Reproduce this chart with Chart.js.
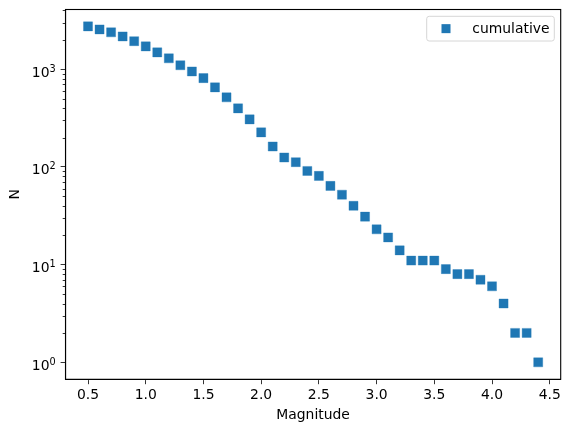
<!DOCTYPE html>
<html>
<head>
<meta charset="utf-8">
<script src="https://cdn.jsdelivr.net/npm/chart.js@4.4.1/dist/chart.umd.min.js"></script>
<style>
  html, body { margin: 0; padding: 0; background: #fff; }
  #wrap { width: 570px; height: 432px; }
</style>
</head>
<body>
<div id="wrap"><canvas id="chart" width="570" height="432"></canvas></div>
<script>
// data
const magnitudes = [0.5, 0.6, 0.7, 0.8, 0.9, 1.0, 1.1, 1.2, 1.3, 1.4,
                    1.5, 1.6, 1.7, 1.8, 1.9, 2.0, 2.1, 2.2, 2.3, 2.4,
                    2.5, 2.6, 2.7, 2.8, 2.9, 3.0, 3.1, 3.2, 3.3, 3.4,
                    3.5, 3.6, 3.7, 3.8, 3.9, 4.0, 4.1, 4.2, 4.3, 4.4];
const cumulative = [2750, 2560, 2390, 2170, 1940, 1715, 1490, 1295, 1100, 950,
                    812, 653, 516, 398, 307, 226, 162, 125, 112, 91,
                    81, 64, 52, 40, 31, 23, 19, 14, 11, 11,
                    11, 9, 8, 8, 7, 6, 4, 2, 2, 1];
const xTicks = [0.5, 1.0, 1.5, 2.0, 2.5, 3.0, 3.5, 4.0, 4.5];
const yTicks = [1, 10, 100, 1000];
const yMinorTicks = [];
[1, 10, 100, 1000].forEach(d => {
    for (let k = 2; k <= 9; k++) yMinorTicks.push(k * d);
});

const FONT = { family: "'DejaVu Sans', sans-serif", size: 13.9 };
const BLUE = '#1f77b4';

// matplotlib-like frame, minor ticks, 10^n labels and legend
const mplExtras = {
    id: 'mplExtras',
    afterDraw(chart) {
        const ctx = chart.ctx;
        const a = chart.chartArea;
        const y = chart.scales.y;
        ctx.save();
        ctx.strokeStyle = '#000';
        // minor ticks on log axis
        ctx.lineWidth = 0.8;
        yMinorTicks.forEach(v => {
            const py = y.getPixelForValue(v);
            if (py < a.top || py > a.bottom) return;
            ctx.beginPath();
            ctx.moveTo(a.left - 2.8, Math.round(py) + 0.5);
            ctx.lineTo(a.left, Math.round(py) + 0.5);
            ctx.stroke();
        });
        ctx.lineWidth = 1.1;
        ctx.strokeRect(a.left, a.top, a.right - a.left, a.bottom - a.top);

        // tick labels 10^n with raised exponent
        ctx.fillStyle = '#000';
        ctx.textBaseline = 'alphabetic';
        ctx.textAlign = 'left';
        const big = FONT.size + 'px ' + FONT.family;
        const small = (FONT.size * 0.7).toFixed(2) + 'px ' + FONT.family;
        yTicks.forEach(v => {
            const py = y.getPixelForValue(v);
            const exp = String(Math.round(Math.log10(v)));
            const right = a.left - 9.8;
            ctx.font = small;
            const ew = ctx.measureText(exp).width;
            ctx.font = big;
            const bw = ctx.measureText('10').width;
            ctx.fillText('10', right - ew - bw, py + 7.4);
            ctx.font = small;
            ctx.fillText(exp, right - ew, py + 2.4);
        });

        // legend box, upper right
        const ds = chart.data.datasets[0];
        const w = 127.6, h = 24.7;
        const lx = a.right - 6.4 - w, ly = a.top + 6.8;
        ctx.beginPath();
        ctx.roundRect(lx, ly, w, h, 2.5);
        ctx.fillStyle = 'rgba(255,255,255,0.8)';
        ctx.fill();
        ctx.strokeStyle = '#d6d6d6';
        ctx.lineWidth = 1;
        ctx.stroke();
        ctx.fillStyle = ds.backgroundColor;
        ctx.fillRect(lx + 14.8, ly + h / 2 - 4.5, 9, 9);
        ctx.fillStyle = '#000';
        ctx.font = big;
        ctx.textBaseline = 'middle';
        ctx.fillText(ds.label, lx + 45.6, ly + h / 2 + 0.5);
        ctx.restore();
    }
};

new Chart(document.getElementById('chart'), {
    type: 'scatter',
    data: {
        datasets: [{
            label: 'cumulative',
            data: magnitudes.map((m, i) => ({ x: m, y: cumulative[i] })),
            backgroundColor: BLUE,
            borderColor: 'rgba(31,119,180,0.35)',
            borderWidth: 1,
            pointStyle: 'rect',
            pointRadius: 6.4,
            pointHoverRadius: 6.4
        }]
    },
    options: {
        responsive: false,
        animation: false,
        events: [],
        layout: { padding: { left: 0, right: 9.3, top: 9.5, bottom: 0 } },
        plugins: {
            legend: { display: false },
            tooltip: { enabled: false }
        },
        scales: {
            x: {
                type: 'linear',
                min: 0.305,
                max: 4.595,
                afterBuildTicks: s => { s.ticks = xTicks.map(v => ({ value: v })); },
                afterFit: s => { s.height = 52.7; },
                grid: { display: true, drawOnChartArea: false, tickLength: 4.9, tickColor: '#000', tickWidth: 0.8 },
                border: { display: true, color: '#000', width: 1.1 },
                ticks: {
                    color: '#000', font: FONT, padding: 2.5, maxRotation: 0,
                    callback: v => v.toFixed(1)
                },
                title: { display: true, text: 'Magnitude', color: '#000', font: FONT, padding: { top: 0, bottom: 8.7 } }
            },
            y: {
                type: 'logarithmic',
                min: 0.67,
                max: 4093,
                afterBuildTicks: s => { s.ticks = yTicks.map(v => ({ value: v })); },
                afterFit: s => { s.width = 65.5; },
                grid: { display: true, drawOnChartArea: false, tickLength: 4.9, tickColor: '#000', tickWidth: 0.8 },
                border: { display: true, color: '#000', width: 1.1 },
                ticks: { display: false },
                title: { display: true, text: 'N', color: '#000', font: FONT, padding: { top: 7.5, bottom: 0 } }
            }
        }
    },
    plugins: [mplExtras]
});
</script>
</body>
</html>
